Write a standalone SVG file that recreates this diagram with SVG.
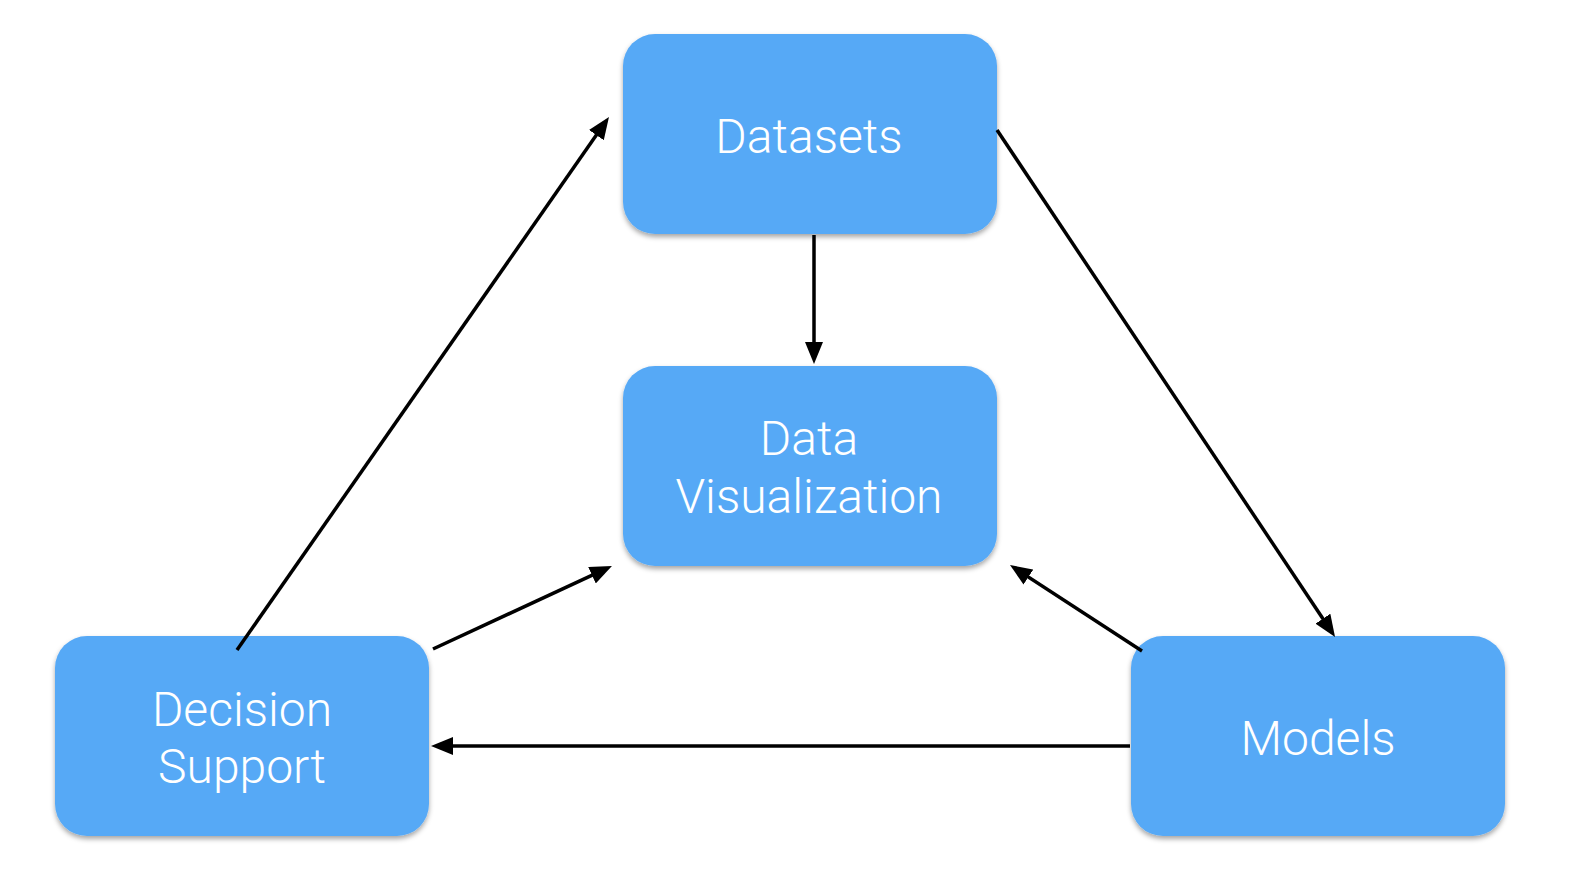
<svg xmlns="http://www.w3.org/2000/svg" width="1570" height="886" viewBox="0 0 1570 886">
<defs>
<filter id="sh" x="-10%" y="-10%" width="120%" height="130%">
<feDropShadow dx="0" dy="3" stdDeviation="2.5" flood-color="#000" flood-opacity="0.35"/>
</filter>
<marker id="ah" markerWidth="22" markerHeight="18" viewBox="0 0 22 18" refX="14" refY="9" orient="auto" markerUnits="userSpaceOnUse">
<path d="M0,0 L22,9 L0,18 Z" fill="#000"/>
</marker>
<style>
.box{fill:#57A9F6;filter:url(#sh)}
.lbl{font-family:Roboto,"Liberation Sans",sans-serif;font-weight:300;font-size:48px;fill:#fff;text-anchor:middle}
.c{stroke:#000;stroke-width:3.5;fill:none;marker-end:url(#ah)}
</style>
</defs>
<rect width="1570" height="886" fill="#fff"/>
<g id="datasets">
<rect class="box" x="623" y="34" width="374" height="200" rx="32"/>
<text class="lbl" x="809" y="153">Datasets</text>
</g>
<g id="data-visualization">
<rect class="box" x="623" y="366" width="374" height="200" rx="32"/>
<text class="lbl" x="809" y="455">Data</text>
<text class="lbl" x="809" y="513">Visualization</text>
</g>
<g id="decision-support">
<rect class="box" x="55" y="636" width="374" height="200" rx="32"/>
<text class="lbl" x="242" y="726">Decision</text>
<text class="lbl" x="242" y="783">Support</text>
</g>
<g id="models">
<rect class="box" x="1131" y="636" width="374" height="200" rx="32"/>
<text class="lbl" x="1318" y="755">Models</text>
</g>
<g id="connectors">
<line class="c" x1="237" y1="650" x2="604.4" y2="123.6"/>
<line class="c" x1="997" y1="130" x2="1330.6" y2="630.3"/>
<line class="c" x1="814" y1="235" x2="814" y2="356"/>
<line class="c" x1="433" y1="649" x2="604.7" y2="569.4"/>
<line class="c" x1="1142" y1="651" x2="1016.7" y2="569.4"/>
<line class="c" x1="1130" y1="746" x2="439" y2="746"/>
</g>
</svg>
